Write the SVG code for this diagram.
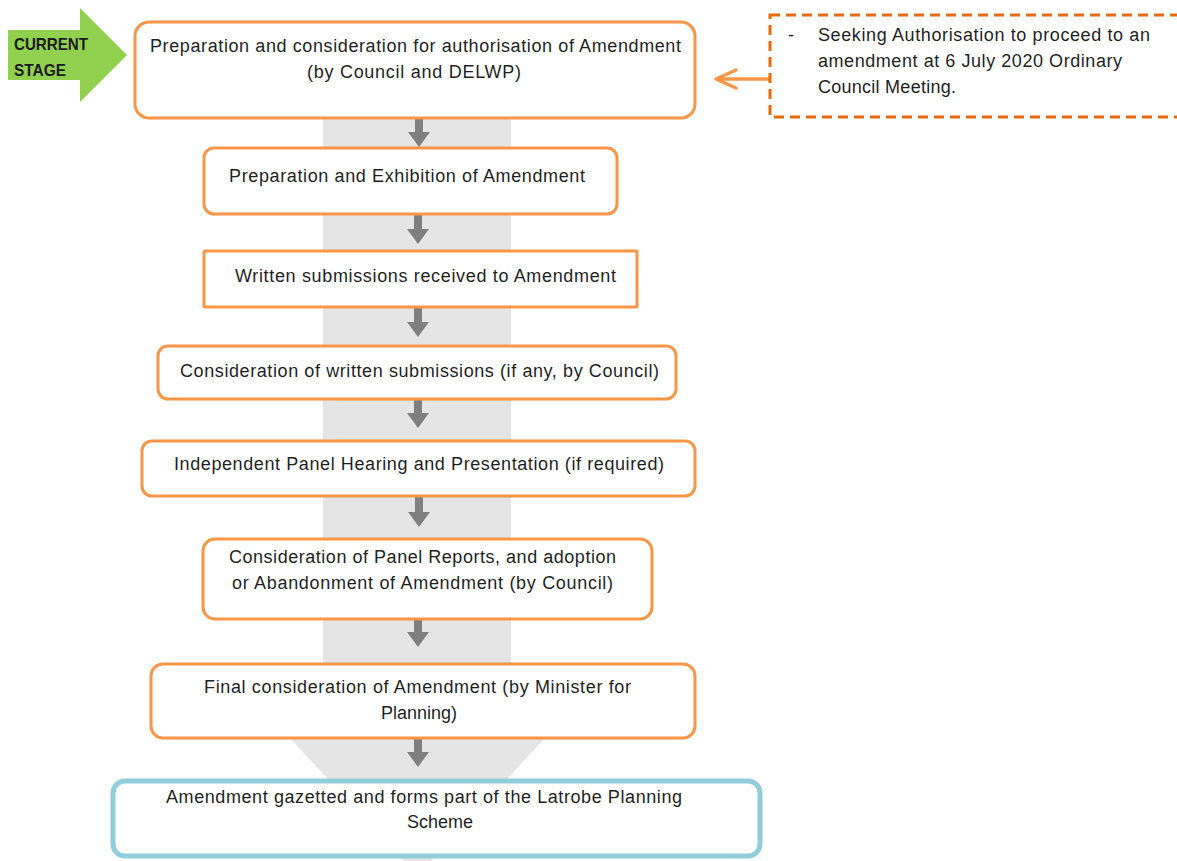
<svg xmlns="http://www.w3.org/2000/svg" width="1177" height="861" viewBox="0 0 1177 861">
<defs>
<style>
.box{fill:#fff;stroke:#F79646;stroke-width:3}
.t{font-family:"Liberation Sans",Arial,sans-serif;font-size:18px;fill:#1f1f1f;text-anchor:middle}
.tl{font-family:"Liberation Sans",Arial,sans-serif;font-size:18px;fill:#1f1f1f}
.flow{fill:#7F7F7F}
.cs{font-family:"Liberation Sans",Arial,sans-serif;font-size:16.5px;font-weight:bold;fill:#1a1a1a}
</style>
</defs>
<rect width="1177" height="861" fill="#fff"/>
<g id="background-arrow">
<path d="M323 118 H511 V738 H545 L417.5 876 L290 738 H323 Z" fill="#E5E5E5"/>
</g>
<g id="current-stage">
<path d="M8 30 H80 V8 L127 55 L80 102 V80 H8 Z" fill="#92D050"/>
<text class="cs" x="14" y="50" textLength="74" lengthAdjust="spacingAndGlyphs">CURRENT</text>
<text class="cs" x="14" y="76" textLength="52" lengthAdjust="spacingAndGlyphs">STAGE</text>
</g>
<g id="connectors">
<path class="flow" d="M415 118 h8 v14 h7 l-11 15 l-11 -15 h7 z"/>
<path class="flow" d="M414 214 h8 v15 h7 l-11 15 l-11 -15 h7 z"/>
<path class="flow" d="M414 307 h8 v15 h7 l-11 15 l-11 -15 h7 z"/>
<path class="flow" d="M414 399 h8 v14 h7 l-11 15 l-11 -15 h7 z"/>
<path class="flow" d="M415 496 h8 v16 h7 l-11 15 l-11 -15 h7 z"/>
<path class="flow" d="M414 619 h8 v13 h7 l-11 15 l-11 -15 h7 z"/>
<path class="flow" d="M414 738 h8 v14 h7 l-11 15 l-11 -15 h7 z"/>
<g fill="none" stroke="#F79646" stroke-width="3.5" stroke-linecap="round" stroke-linejoin="round">
<line x1="770" y1="79" x2="717" y2="79"/>
<path d="M736 70 L716 79 L736 88"/>
</g>
</g>
<g id="node1">
<rect class="box" x="135" y="22" width="560" height="96" rx="14"/>
<text class="t" x="415.5" y="52" textLength="531" lengthAdjust="spacing">Preparation and consideration for authorisation of Amendment</text>
<text class="t" x="414" y="78" textLength="214" lengthAdjust="spacing">(by Council and DELWP)</text>
</g>
<g id="node2">
<rect class="box" x="204" y="148" width="413" height="66" rx="10"/>
<text class="t" x="407" y="182" textLength="356" lengthAdjust="spacing">Preparation and Exhibition of Amendment</text>
</g>
<g id="node3">
<rect class="box" x="204" y="251" width="433" height="56" rx="1"/>
<text class="t" x="425.5" y="282" textLength="381" lengthAdjust="spacing">Written submissions received to Amendment</text>
</g>
<g id="node4">
<rect class="box" x="158" y="346" width="518" height="53" rx="10"/>
<text class="t" x="419.5" y="377" textLength="479" lengthAdjust="spacing">Consideration of written submissions (if any, by Council)</text>
</g>
<g id="node5">
<rect class="box" x="142" y="441" width="553" height="55" rx="10"/>
<text class="t" x="419" y="470" textLength="490" lengthAdjust="spacing">Independent Panel Hearing and Presentation (if required)</text>
</g>
<g id="node6">
<rect class="box" x="203" y="539" width="449" height="80" rx="12" stroke-width="5"/>
<text class="t" x="422.5" y="563" textLength="387" lengthAdjust="spacing">Consideration of Panel Reports, and adoption</text>
<text class="t" x="422.5" y="589" textLength="381" lengthAdjust="spacing">or Abandonment of Amendment (by Council)</text>
</g>
<g id="node7">
<rect class="box" x="151" y="664" width="544" height="74" rx="12"/>
<text class="t" x="417.5" y="693" textLength="427" lengthAdjust="spacing">Final consideration of Amendment (by Minister for</text>
<text class="t" x="419" y="719">Planning)</text>
</g>
<g id="node8">
<rect x="113" y="781" width="647" height="75" rx="12" fill="#fff" stroke="#92CDDC" stroke-width="5"/>
<text class="t" x="424" y="803" textLength="516" lengthAdjust="spacing">Amendment gazetted and forms part of the Latrobe Planning</text>
<text class="t" x="440" y="828">Scheme</text>
</g>
<g id="note">
<rect x="770" y="15" width="420" height="102" fill="#fff" stroke="#E36C09" stroke-width="3" stroke-dasharray="10 6"/>
<text class="tl" x="788" y="41">-</text>
<text class="tl" x="818" y="41" textLength="332" lengthAdjust="spacing">Seeking Authorisation to proceed to an</text>
<text class="tl" x="818" y="67" textLength="304" lengthAdjust="spacing">amendment at 6 July 2020 Ordinary</text>
<text class="tl" x="818" y="93" textLength="138" lengthAdjust="spacing">Council Meeting.</text>
</g>
</svg>
